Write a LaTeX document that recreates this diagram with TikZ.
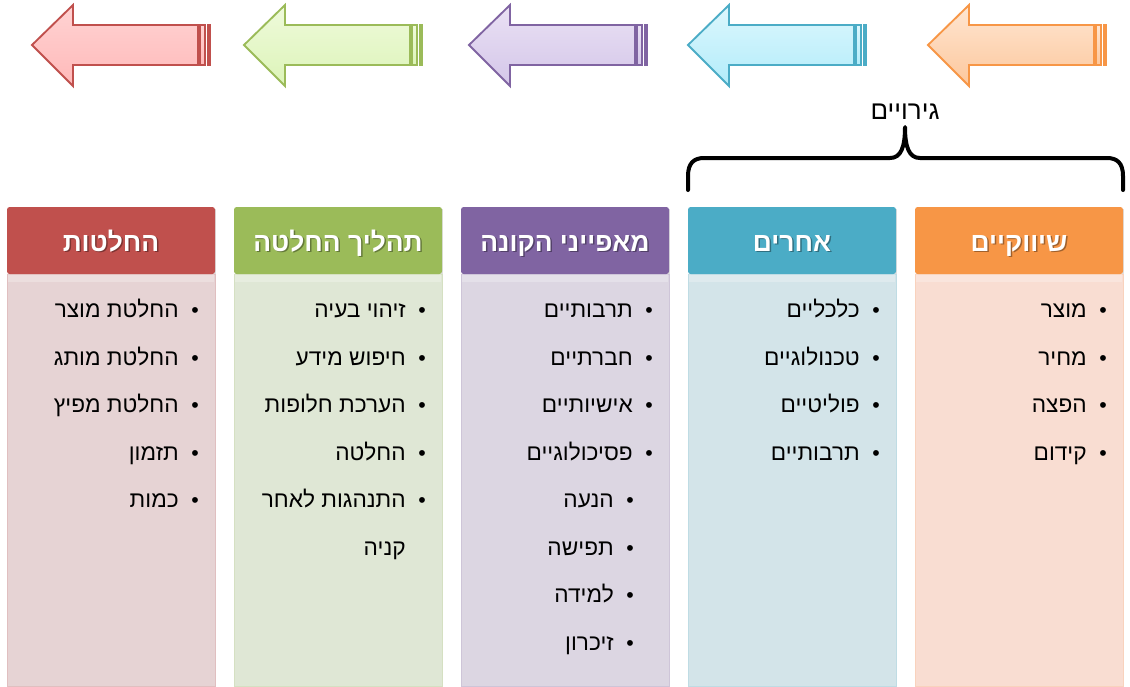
\documentclass[tikz,border=0pt]{standalone}
\usepackage{fontspec}
\TeXXeTstate=1
\newfontfamily\heb[Script=Hebrew]{Liberation Sans}
\definecolor{cRed}{HTML}{C0504D}
\definecolor{cGreen}{HTML}{9BBB59}
\definecolor{cPurple}{HTML}{8064A2}
\definecolor{cBlue}{HTML}{4BACC6}
\definecolor{cOrange}{HTML}{F79646}
\definecolor{bRed}{RGB}{230,211,212}
\definecolor{bGreen}{RGB}{223,231,213}
\definecolor{bPurple}{RGB}{220,214,226}
\definecolor{bBlue}{RGB}{211,228,233}
\definecolor{bOrange}{RGB}{249,221,210}
\definecolor{tRed}{HTML}{FFD3D3}\definecolor{uRed}{HTML}{FFB9B9}
\definecolor{tGreen}{HTML}{EFFADB}\definecolor{uGreen}{HTML}{DCF4B8}
\definecolor{tPurple}{HTML}{EAE1F4}\definecolor{uPurple}{HTML}{D4C6E9}
\definecolor{tBlue}{HTML}{DDF7FD}\definecolor{uBlue}{HTML}{B2ECFA}
\definecolor{tOrange}{HTML}{FEE6D2}\definecolor{uOrange}{HTML}{FDC79C}
\tikzset{
  itemtxt/.style={anchor=base east,inner sep=0pt,font=\heb\fontsize{17}{20}\selectfont,text=black},
  bul/.style={anchor=base,inner sep=0pt,font=\heb\fontsize{16}{20}\selectfont,text=black},
  headtxt/.style={anchor=base,inner sep=0pt,font=\heb\bfseries\fontsize{19.8}{23}\selectfont,text=white},
  headshadow/.style={anchor=base,inner sep=0pt,font=\heb\bfseries\fontsize{19.8}{23}\selectfont,text=black,text opacity=0.35},
  arrowline/.style={line width=1.4pt,line join=miter}
}
% name, column right edge, row y, text (given with \beginR ... \endR)
\newcommand\Itm[4]{%
  \node[itemtxt] (#1) at (#2-36,#3+7.5) {#4};
  \node[bul] (#1b) at (#2-20,#3+7.5) {•};}
\newcommand\SubItm[4]{%
  \node[itemtxt] (#1) at (#2-55,#3+7.5) {#4};
  \node[bul] (#1b) at (#2-39,#3+7.5) {•};}
% name, left x, header colour, body colour, title (given with \beginR ... \endR)
\newcommand\Column[5]{%
  \fill[black,opacity=0.12] (#2+1,209) rectangle (#2+209,276);
  \filldraw[fill=#4,draw=#4!85!#3,line width=0.6pt] (#2,274) rectangle (#2+208,686);
  \fill[white,opacity=0.25] (#2+1,274) rectangle (#2+207,282);
  \fill[#3,rounded corners=2pt] (#2,207) rectangle (#2+208,274);
  \node[headshadow] (#1s) at (#2+105.5,252.5) {#5};
  \node[headtxt] (#1) at (#2+104,251) {#5};}
% name, tip x, line colour, top colour, bottom colour
\newcommand\Arr[5]{%
  \path[arrowline,draw=#3,top color=#4,bottom color=#5] (#2,45) -- (#2+41,5) -- (#2+41,25) -- (#2+166,25)
     -- (#2+166,65) -- (#2+41,65) -- (#2+41,86) -- cycle;
  \path[line width=1.2pt,draw=#3,top color=#4,bottom color=#5] (#2+168,25) rectangle (#2+173,65);
  \path[line width=1.2pt,draw=#3,fill=#3] (#2+175.5,25) rectangle (#2+178.5,65);
  \coordinate (#1) at (#2+90,45);}
\begin{document}
\begin{tikzpicture}[x=0.75pt,y=-0.75pt]
\useasboundingbox (0,0) rectangle (1130,686);
\fill[white] (0,0) rectangle (1130,686);
% arrows
\Arr{aRed}{32}{cRed}{tRed}{uRed}
\Arr{aGreen}{244}{cGreen}{tGreen}{uGreen}
\Arr{aPurple}{469}{cPurple}{tPurple}{uPurple}
\Arr{aBlue}{688}{cBlue}{tBlue}{uBlue}
\Arr{aOrange}{928}{cOrange}{tOrange}{uOrange}
% brace and label
\coordinate (brL) at (688,190);
\coordinate (brR) at (1123,190);
\coordinate (brTip) at (905,127);
\draw[line width=3pt,line cap=round,line join=round] (brL) -- (688,176) .. controls (688,163) and (694,158) .. (704,158)
  -- (890,158) .. controls (901,158) and (905,147) .. (brTip)
  .. controls (905,147) and (909,158) .. (920,158) -- (1107,158)
  .. controls (1117,158) and (1123,163) .. (1123,176) -- (brR);
\node[anchor=base,inner sep=0pt,font=\heb\fontsize{19.5}{22}\selectfont] (stim) at (905,119) {\beginR גירויים\endR};
% columns
\Column{hRed}{7}{cRed}{bRed}{\beginR החלטות\endR}
\Column{hGreen}{234}{cGreen}{bGreen}{\beginR תהליך החלטה\endR}
\Column{hPurple}{461}{cPurple}{bPurple}{\beginR מאפייני הקונה\endR}
\Column{hBlue}{688}{cBlue}{bBlue}{\beginR אחרים\endR}
\Column{hOrange}{915}{cOrange}{bOrange}{\beginR שיווקיים\endR}
% orange items
\Itm{o1}{1123}{310}{\beginR מוצר\endR}
\Itm{o2}{1123}{357.5}{\beginR מחיר\endR}
\Itm{o3}{1123}{405}{\beginR הפצה\endR}
\Itm{o4}{1123}{452.5}{\beginR קידום\endR}
% blue items
\Itm{b1}{896}{310}{\beginR כלכליים\endR}
\Itm{b2}{896}{357.5}{\beginR טכנולוגיים\endR}
\Itm{b3}{896}{405}{\beginR פוליטיים\endR}
\Itm{b4}{896}{452.5}{\beginR תרבותיים\endR}
% purple items
\Itm{p1}{669}{310}{\beginR תרבותיים\endR}
\Itm{p2}{669}{357.5}{\beginR חברתיים\endR}
\Itm{p3}{669}{405}{\beginR אישיותיים\endR}
\Itm{p4}{669}{452.5}{\beginR פסיכולוגיים\endR}
\SubItm{p5}{669}{500}{\beginR הנעה\endR}
\SubItm{p6}{669}{547.5}{\beginR תפישה\endR}
\SubItm{p7}{669}{595}{\beginR למידה\endR}
\SubItm{p8}{669}{642.5}{\beginR זיכרון\endR}
% green items
\Itm{g1}{442}{310}{\beginR זיהוי בעיה\endR}
\Itm{g2}{442}{357.5}{\beginR חיפוש מידע\endR}
\Itm{g3}{442}{405}{\beginR הערכת חלופות\endR}
\Itm{g4}{442}{452.5}{\beginR החלטה\endR}
\Itm{g5}{442}{500}{\beginR התנהגות לאחר\endR}
\node[itemtxt] (g5b2) at (442-36,547.5+7.5) {\beginR קניה\endR};
% red items
\Itm{r1}{215}{310}{\beginR החלטת מוצר\endR}
\Itm{r2}{215}{357.5}{\beginR החלטת מותג\endR}
\Itm{r3}{215}{405}{\beginR החלטת מפיץ\endR}
\Itm{r4}{215}{452.5}{\beginR תזמון\endR}
\Itm{r5}{215}{500}{\beginR כמות\endR}
\end{tikzpicture}
\end{document}
